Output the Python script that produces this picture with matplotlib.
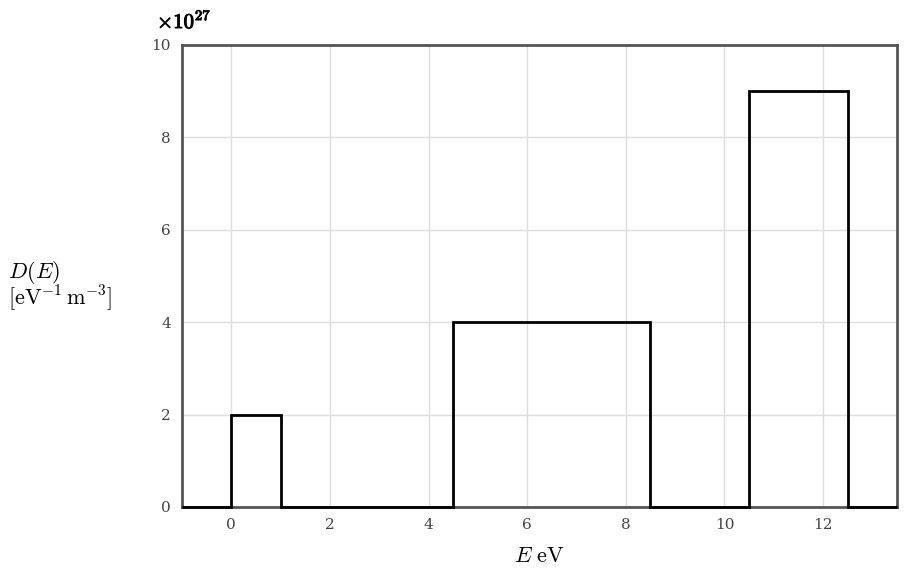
import numpy as np
import matplotlib.pyplot as plt
import matplotlib.patheffects as pe

plt.rcParams['mathtext.fontset'] = 'cm'

# step edges (eV) and density values (eV^-1 m^-3)
edges = [-1, 0, 1, 4.5, 8.5, 10.5, 12.5, 13.5]
density = [0, 2e27, 0, 4e27, 0, 9e27, 0]
xticks = [0, 2, 4, 6, 8, 10, 12]
yticks = [0, 2, 4, 6, 8, 10]
scale = 1e27

fig = plt.figure(figsize=(9.2, 5.68), dpi=100)
ax = fig.add_axes([182 / 920, 61 / 568, 715 / 920, 462 / 568])

ax.stairs(np.array(density) / scale, edges, color='black', linewidth=2,
          clip_on=False, zorder=5)

ax.set_xlim(edges[0], edges[-1])
ax.set_ylim(0, 10)
ax.set_xticks(xticks)
ax.set_yticks(yticks)
ax.grid(True, color='#dddddd', linewidth=1)
ax.set_axisbelow(True)
ax.tick_params(length=0, pad=8, labelsize=11, colors='#444444')
for lab in ax.get_xticklabels() + ax.get_yticklabels():
    lab.set_fontfamily('DejaVu Serif')
for sp in ax.spines.values():
    sp.set_color('#555555')
    sp.set_linewidth(2)
    sp.set_zorder(4)

ax.set_xlabel(r'$E\ \mathrm{eV}$', fontsize=16, labelpad=10)
fig.text(8 / 920, 1 - 272 / 568, r'$D(E)$', fontsize=16, ha='left', va='center')
fig.text(8 / 920, 1 - 298 / 568, r'$[\mathrm{eV}^{-1}\,\mathrm{m}^{-3}]$',
         fontsize=16, ha='left', va='center')
fig.text(157 / 920, 1 - 20 / 568, r'$\times10^{27}$', fontsize=15,
         ha='left', va='center',
         path_effects=[pe.withStroke(linewidth=0.7, foreground='black')])

fig.savefig('out.png', dpi=100)
